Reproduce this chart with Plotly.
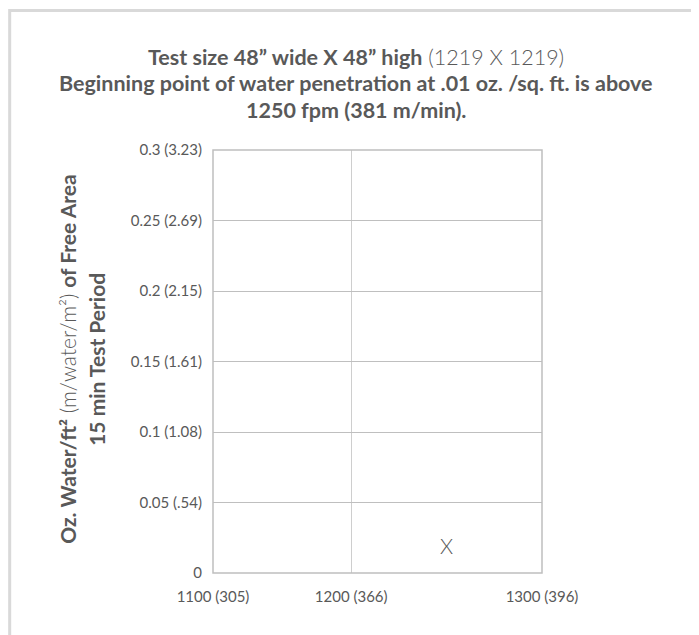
import plotly.graph_objects as go

# ---- data ----
x_ticks_low = [1100, 1200]
x_labels_low = ["1100 (305)", "1200 (366)"]
x_ticks_high = [1300]
x_labels_high = ["1300 (396)"]
y_ticks = [0, 0.05, 0.1, 0.15, 0.2, 0.25, 0.3]
y_tick_labels = ["0", "0.05 (.54)", "0.1 (1.08)", "0.15 (1.61)", "0.2 (2.15)", "0.25 (2.69)", "0.3 (3.23)"]
point_fpm = [1250]
point_oz = [0.01]
point_text = ["X"]

title_lines = [
    "<b>Test size 48” wide X 48” high</b> (1219 X 1219)",
    "<b>Beginning point of water penetration at .01 oz. /sq. ft. is above</b>",
    "<b>1250 fpm (381 m/min).</b>",
]
ytitle_lines = [
    "<b>Oz. Water/ft²</b> (m/water/m²) <b>of Free Area</b>",
    "<b>15 min Test Period</b>",
]

TXT = "#595959"
GRID = "#bfbfbf"
FONT = "Lato"

fig = go.Figure()
# empty trace so the left (1100-1200) segment subplot is built
fig.add_trace(go.Scatter(x=[], y=[], xaxis="x", yaxis="y", showlegend=False, hoverinfo="skip"))
fig.add_trace(go.Scatter(
    x=point_fpm, y=point_oz, text=point_text, mode="text",
    textposition="top center",
    textfont=dict(family=FONT, size=21, color=TXT, weight=300),
    xaxis="x2", yaxis="y", showlegend=False, hoverinfo="skip",
))

axis_common = dict(
    showgrid=True, gridcolor=GRID, gridwidth=1, zeroline=False,
    showline=False, ticks="", tickfont=dict(family=FONT, size=15, color=TXT),
    fixedrange=True,
)

fig.update_layout(
    width=699, height=635,
    margin=dict(l=205, r=165, t=142, b=70),
    paper_bgcolor="white", plot_bgcolor="white",
    xaxis=dict(domain=[0, 0.42], range=[1100, 1200], tickvals=x_ticks_low,
               ticktext=x_labels_low, anchor="y", ticklabelstandoff=13, **axis_common),
    xaxis2=dict(domain=[0.42, 1], range=[1200, 1300], tickvals=x_ticks_high,
                ticktext=x_labels_high, anchor="y", ticklabelstandoff=13, **axis_common),
    yaxis=dict(range=[0, 0.3], tickvals=y_ticks, ticktext=y_tick_labels,
               anchor="x", ticklabelstandoff=10, **axis_common),
    showlegend=False,
)

# vertical gridline at the 1200 tick (the segment boundary)
fig.add_shape(type="line", xref="x2", yref="paper", x0=x_ticks_low[-1], x1=x_ticks_low[-1],
              y0=0, y1=1, line=dict(color=GRID, width=1.5), layer="above")
# plot-area border and outer chart border
fig.add_shape(type="rect", xref="paper", yref="paper", x0=0, x1=1, y0=0, y1=1,
              line=dict(color=GRID, width=1.5), layer="above")
fig.add_shape(type="rect", xref="paper", yref="paper", x0=-0.618, x1=1.6, y0=-0.3, y1=1.33,
              line=dict(color="#d9d9d9", width=3), layer="below")

title_y = [1.22, 1.158, 1.095]
for line, yy in zip(title_lines, title_y):
    fig.add_annotation(text=line, xref="paper", yref="paper", x=0.435, y=yy,
                       xanchor="center", yanchor="middle", showarrow=False,
                       font=dict(family=FONT, size=21.5, color=TXT, weight=300))

ytitle_x = [-0.441, -0.353]
for line, xx in zip(ytitle_lines, ytitle_x):
    fig.add_annotation(text=line, xref="paper", yref="paper", x=xx, y=0.506,
                       xanchor="center", yanchor="middle", textangle=-90, showarrow=False,
                       font=dict(family=FONT, size=21, color=TXT, weight=300))

fig.write_html("out.html", config={"displayModeBar": False})
